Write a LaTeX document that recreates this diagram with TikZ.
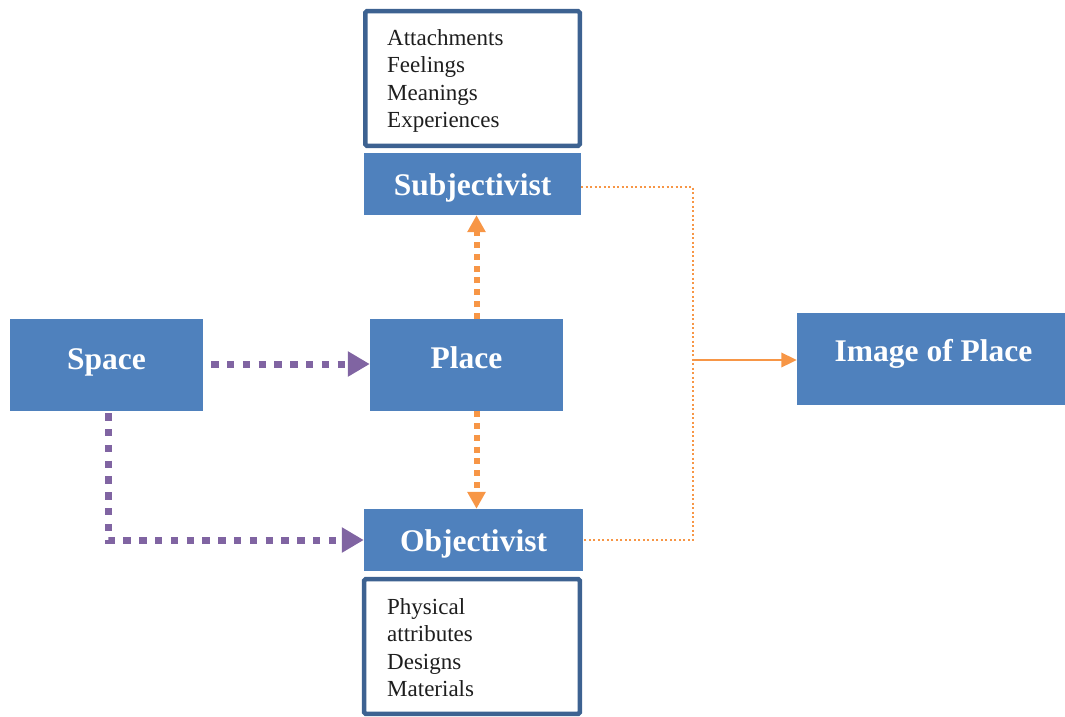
\documentclass[tikz,border=0pt]{standalone}
\usepackage{fontspec}
\setmainfont{Liberation Serif}
\usetikzlibrary{arrows.meta,calc}

\definecolor{boxblue}{HTML}{4F81BD}
\definecolor{frameblue}{HTML}{3D6291}
\definecolor{violet}{HTML}{8064A2}
\definecolor{amber}{HTML}{F79646}
\definecolor{inktext}{HTML}{1E1E1E}

\tikzset{
  block/.style={rectangle, fill=boxblue, draw=none, inner sep=0pt},
  blocklabel/.style={text=white, font=\fontsize{31.5}{34}\selectfont\bfseries,
    text height=21.3pt, text depth=0pt, inner sep=0pt},
  listframe/.style={draw=frameblue, line width=4.5pt, rounded corners=1.5pt, fill=white},
  listtext/.style={text=inktext, align=left, inner sep=0pt, anchor=west,
    font=\fontsize{23}{27.6}\selectfont},
  spacelink/.style={draw=violet, line width=7pt, dash pattern=on 7.3pt off 8.5pt,
    -{Triangle[length=22pt,width=24pt]}},
  placelink/.style={draw=amber, line width=6pt, dash pattern=on 6pt off 5.8pt,
    -{Triangle[length=17pt,width=17.5pt]}},
  imagelink/.style={draw=amber, line width=2pt, dash pattern=on 2.2pt off 2.3pt},
  imagearrow/.style={draw=amber, line width=2pt, -{Triangle[length=15.5pt,width=14.5pt]}}
}

\begin{document}
\begin{tikzpicture}[x=1pt, y=-1pt]
  \useasboundingbox (0,0) rectangle (1065,716);

  % detail frames above and below the two views
  \node[listframe, minimum width=214.5pt, minimum height=134.6pt] (subjframe) at (472.5,78.5) {};
  \node[listtext] (subjlist) at (387,81) {Attachments\\Feelings\\Meanings\\Experiences};

  \node[listframe, minimum width=215.6pt, minimum height=134.6pt] (objframe) at (472,646.5) {};
  \node[listtext] (objlist) at (387,647.7) {Physical\\attributes\\Designs\\Materials};

  % main blocks
  \node[block, minimum width=217pt, minimum height=62pt] (subj) at (472.5,184) {};
  \node[blocklabel] (subjt) at (472.5,185) {Subjectivist};

  \node[block, minimum width=193pt, minimum height=92pt] (space) at (106.5,365) {};
  \node[blocklabel] (spacet) at (106.5,359) {Space};

  \node[block, minimum width=193pt, minimum height=92pt] (place) at (466.5,365) {};
  \node[blocklabel] (placet) at (466.5,358) {Place};

  \node[block, minimum width=268pt, minimum height=92pt] (img) at (931,359) {};
  \node[blocklabel] (imgt) at (933.5,351) {Image of Place};

  \node[block, minimum width=219pt, minimum height=62pt] (obj) at (473.5,540) {};
  \node[blocklabel] (objt) at (473.5,540.5) {Objectivist};

  % space leads to place and to the objectivist view
  \draw[spacelink] ([xshift=8pt,yshift=1pt]space.east) -- ([yshift=1pt]place.west);
  \draw[spacelink] ([xshift=1.5pt,yshift=-2pt]space.south) |- (obj.west);

  % place splits into the two views
  \draw[placelink] ([xshift=10pt]place.north) -- ([xshift=10pt]place.north |- subj.south);
  \draw[placelink] ([xshift=10pt]place.south) -- ([xshift=10pt]place.south |- obj.north);

  % both views join into the image of place
  \coordinate (join) at (693,360);
  \draw[imagelink] ([yshift=-3pt]subj.east) -| (join) |- (obj.east);
  \draw[imagearrow] (join) -- (img.west |- join);
\end{tikzpicture}
\end{document}
